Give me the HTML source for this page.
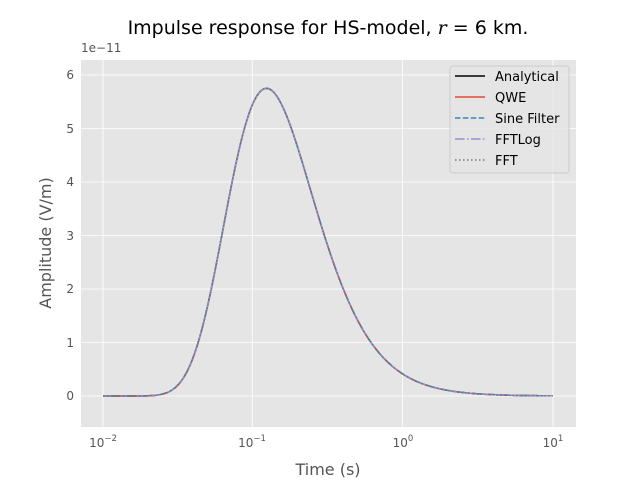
<!DOCTYPE html>
<html><head><style>body{margin:0;background:#fff}svg{display:block;font-family:"DejaVu Sans","Liberation Sans",sans-serif}</style></head>
<body>
<svg id="s" width="640" height="480" xmlns="http://www.w3.org/2000/svg">
<rect width="640" height="480" fill="#fff"/>
<rect x="81" y="60" width="495" height="367" fill="#e5e5e5"/>
<g stroke="#fff" stroke-width="0.8">
<line x1="103" y1="60" x2="103" y2="427"/><line x1="252.3" y1="60" x2="252.3" y2="427"/>
<line x1="402.6" y1="60" x2="402.6" y2="427"/><line x1="553" y1="60" x2="553" y2="427"/>
<line x1="81" y1="396" x2="576" y2="396"/><line x1="81" y1="342.5" x2="576" y2="342.5"/>
<line x1="81" y1="289" x2="576" y2="289"/><line x1="81" y1="235.5" x2="576" y2="235.5"/>
<line x1="81" y1="182" x2="576" y2="182"/><line x1="81" y1="128.5" x2="576" y2="128.5"/>
<line x1="81" y1="75" x2="576" y2="75"/>
</g>
<g id="curves" fill="none" stroke-width="1.5"></g>
<g fill="#555" font-size="12" text-anchor="end">
<text x="74" y="400">0</text><text x="74" y="347">1</text><text x="74" y="293">2</text>
<text x="74" y="240">3</text><text x="74" y="186">4</text><text x="74" y="133">5</text><text x="74" y="79">6</text>
</g>
<text x="81" y="52" fill="#555" font-size="12">1e−11</text>
<g fill="#555" font-size="12" text-anchor="middle">
<text x="103" y="447">10<tspan font-size="8.5" dy="-6">−2</tspan></text>
<text x="252" y="447">10<tspan font-size="8.5" dy="-6">−1</tspan></text>
<text x="403" y="447">10<tspan font-size="8.5" dy="-6">0</tspan></text>
<text x="553" y="447">10<tspan font-size="8.5" dy="-6">1</tspan></text>
</g>
<text x="328" y="475" fill="#555" font-size="16" text-anchor="middle">Time (s)</text>
<text transform="translate(51,243) rotate(-90)" fill="#555" font-size="16" text-anchor="middle">Amplitude (V/m)</text>
<text x="328" y="34" fill="#000" font-size="19" text-anchor="middle">Impulse response for HS-model, <tspan font-style="italic" font-family="DejaVu Serif,serif">r</tspan> = 6 km.</text>
<rect x="450" y="66" width="119" height="107" rx="3" fill="#e5e5e5" fill-opacity="0.8" stroke="#ccc"/>
<g stroke-width="1.5">
<line x1="455" y1="76" x2="485" y2="76" stroke="#000"/>
<line x1="455" y1="97" x2="485" y2="97" stroke="#e24a33"/>
<line x1="455" y1="118" x2="485" y2="118" stroke="#348abd" stroke-dasharray="5.5,2.4"/>
<line x1="455" y1="139" x2="485" y2="139" stroke="#988ed5" stroke-dasharray="9.6,2.4,1.5,2.4"/>
<line x1="455" y1="160" x2="485" y2="160" stroke="#777" stroke-dasharray="1.5,2.5"/>
</g>
<g font-size="13" fill="#000">
<text x="495" y="81">Analytical</text><text x="495" y="102">QWE</text><text x="495" y="123">Sine Filter</text>
<text x="495" y="144">FFTLog</text><text x="495" y="165">FFT</text>
</g>
</svg>
<script>
var p=2.17,t0=0.123,a=p*t0;
function f(t){return Math.pow(t/t0,-p)*Math.exp(-a/t+p)*5.75;}
var d="";
for(var i=0;i<=400;i++){var lg=-2+3*i/400,t=Math.pow(10,lg);var x=103+150*(lg+2),y=396-53.5*f(t);d+=(i?"L":"M")+x.toFixed(2)+" "+y.toFixed(2);}
var st=[["#000",""],["#e24a33",""],["#348abd","5.5,2.4"],["#988ed5","9.6,2.4,1.5,2.4"],["#777","1.5,2.5"]];
var g=document.getElementById("curves");
st.forEach(function(s){var e=document.createElementNS("http://www.w3.org/2000/svg","path");e.setAttribute("d",d);e.setAttribute("stroke",s[0]);if(s[1])e.setAttribute("stroke-dasharray",s[1]);g.appendChild(e);});
</script>
</body></html>
